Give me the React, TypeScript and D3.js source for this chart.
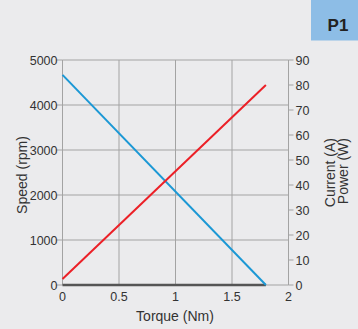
import React from "react";
import * as d3 from "d3";

const torqueTicks = [0, 0.5, 1, 1.5, 2];
const speedTicks = [0, 1000, 2000, 3000, 4000, 5000];
const rightTicks = [0, 10, 20, 30, 40, 50, 60, 70, 80, 90];
const speedTorque = [0, 1.8];
const speedValues = [4670, 0];
const currentTorque = [0, 1.8];
const currentValues = [2.4, 80];
const powerTorque = [0, 1.8];
const powerValues = [0, 0];

export default function App() {
  const W = 358, H = 329;
  const left = 62.5, right = 288.5, top = 60, bottom = 285;
  const x = d3.scaleLinear().domain([0, 2]).range([left, right]);
  const yS = d3.scaleLinear().domain([0, 5000]).range([bottom, top]);
  const yR = d3.scaleLinear().domain([0, 90]).range([bottom, top]);
  const lineS = d3.line<number>().x((_, i) => x(speedTorque[i])).y((d) => yS(d));
  const lineC = d3.line<number>().x((_, i) => x(currentTorque[i])).y((d) => yR(d));
  const lineP = d3.line<number>().x((_, i) => x(powerTorque[i])).y((d) => yR(d));
  const grid = "#a3a3a3";
  const txt = "#333";
  const font = "Liberation Sans, Arial, sans-serif";
  return (
    <svg width={W} height={H} style={{ position: "absolute", left: 0, top: 0 }} fontFamily={font}>
      <rect width={W} height={H} fill="#ebebed" />
      <rect x={311} y={0} width={47} height={40.5} fill="#8dbde6" />
      <text x={338} y={31} textAnchor="middle" fontSize={17} fontWeight="bold" fill="#222">P1</text>
      {speedTicks.map((t) => (
        <g key={"s" + t}>
          <line x1={left} x2={right} y1={yS(t)} y2={yS(t)} stroke={grid} strokeWidth={1} />
          <line x1={left - 6} x2={left} y1={yS(t)} y2={yS(t)} stroke={grid} strokeWidth={1} />
          <text x={left - 5} y={yS(t) + 4.5} textAnchor="end" fontSize={12.5} fill={txt}>{t}</text>
        </g>
      ))}
      {torqueTicks.map((t) => (
        <g key={"t" + t}>
          <line x1={x(t)} x2={x(t)} y1={top} y2={bottom} stroke={grid} strokeWidth={1} />
          <text x={x(t)} y={bottom + 16} textAnchor="middle" fontSize={12.5} fill={txt}>{t}</text>
        </g>
      ))}
      {rightTicks.map((t) => (
        <g key={"r" + t}>
          <line x1={right} x2={right + 5} y1={yR(t)} y2={yR(t)} stroke={grid} strokeWidth={1} />
          <text x={right + 7} y={yR(t) + 4.5} textAnchor="start" fontSize={12.5} fill={txt}>{t}</text>
        </g>
      ))}
      <path d={lineP(powerValues) || ""} stroke="#555" strokeWidth={2.5} fill="none" />
      <path d={lineS(speedValues) || ""} stroke="#1b98d5" strokeWidth={2} fill="none" />
      <path d={lineC(currentValues) || ""} stroke="#ec2027" strokeWidth={2} fill="none" />
      <text x={175} y={321} textAnchor="middle" fontSize={14} fill={txt}>Torque (Nm)</text>
      <text transform="translate(27,175) rotate(-90)" textAnchor="middle" fontSize={14} fill={txt}>Speed (rpm)</text>
      <text transform="translate(335,138) rotate(-90)" textAnchor="end" fontSize={14} fill={txt}>Current (A)</text>
      <text transform="translate(348,138) rotate(-90)" textAnchor="end" fontSize={14} fill={txt}>Power (W)</text>
    </svg>
  );
}
